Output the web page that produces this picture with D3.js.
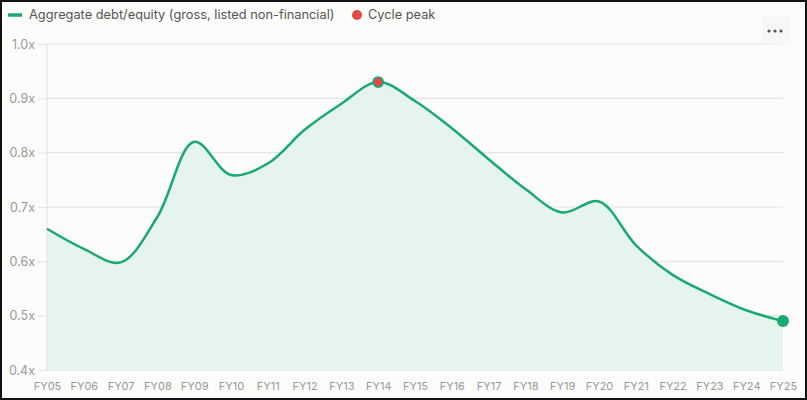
<!DOCTYPE html>
<html><head><meta charset="utf-8">
<script src="https://cdn.jsdelivr.net/npm/d3@7"></script>
<style>
html,body{margin:0;padding:0;background:#fff;}
#wrap{position:absolute;left:0;top:0;width:803px;height:396px;border:2px solid #111;background:#fcfcfa;}
svg{display:block;font-family:Inter,"Noto Sans",sans-serif;}
</style></head><body>
<div id="wrap"><svg id="c" width="803" height="396"></svg></div>
<script>
const categories = ["FY05","FY06","FY07","FY08","FY09","FY10","FY11","FY12","FY13","FY14","FY15","FY16","FY17","FY18","FY19","FY20","FY21","FY22","FY23","FY24","FY25"];
const debtEquity = [0.66,0.623,0.598,0.682,0.82,0.759,0.78,0.842,0.89,0.93,0.895,0.845,0.788,0.733,0.69,0.71,0.63,0.575,0.54,0.51,0.49];
const peakIndex = 9;
const yTicks = [0.4,0.5,0.6,0.7,0.8,0.9,1.0];
const seriesName = "Aggregate debt/equity (gross, listed non-financial)";
const peakName = "Cycle peak";

const off = 2; // border offset
const svg = d3.select("#c");
const g = svg.append("g").attr("transform",`translate(${-off},${-off})`);
const x = d3.scalePoint().domain(categories).range([47,783]);
const y = d3.scaleLinear().domain([0.4,1.0]).range([370,44]);
const green = "#19a974", fill = "#e5f5ee";

// grid
g.append("g").selectAll("line").data(yTicks).join("line")
  .attr("x1",47).attr("x2",783).attr("y1",d=>y(d)).attr("y2",d=>y(d))
  .attr("stroke",d=>d===0.4?"#d6dcd8":"#e4e4e2").attr("stroke-width",1.2);

// area
const data = categories.map((c,i)=>({c,v:debtEquity[i]}));
const curve = d3.curveCatmullRom.alpha(0.5);
g.append("path").datum(data)
  .attr("d", d3.area().x(d=>x(d.c)).y0(y(0.4)).y1(d=>y(d.v)).curve(curve))
  .attr("fill",fill);

// y axis
const ya = g.append("g").attr("transform","translate(47,0)")
  .call(d3.axisLeft(y).tickValues(yTicks).tickFormat(d=>d3.format(".1f")(d)+"x").tickSize(9).tickPadding(3));
ya.select(".domain").attr("stroke","#e4e4e2").attr("stroke-width",1.2).attr("d","M0,"+y(1.0)+"V"+y(0.4));
ya.selectAll(".tick line").attr("stroke","#e4e4e2").attr("stroke-width",1.2);
ya.selectAll("text").attr("fill","#999").attr("font-size",12.5).attr("font-family","Inter,sans-serif");

// x axis
const xa = g.append("g").attr("transform","translate(0,370)")
  .call(d3.axisBottom(x).tickSize(0).tickPadding(12));
xa.select(".domain").remove();
xa.selectAll("text").attr("fill","#999").attr("font-size",11).attr("font-family","Inter,sans-serif");

// line
g.append("path").datum(data)
  .attr("d", d3.line().x(d=>x(d.c)).y(d=>y(d.v)).curve(curve))
  .attr("fill","none").attr("stroke",green).attr("stroke-width",2.5);

// peak dot
g.append("circle").attr("cx",x(categories[peakIndex])).attr("cy",y(debtEquity[peakIndex]))
  .attr("r",5).attr("fill","#e24a4a").attr("stroke",green).attr("stroke-width",1.8);
// end dot
const last = categories.length-1;
g.append("circle").attr("cx",x(categories[last])).attr("cy",y(debtEquity[last]))
  .attr("r",6).attr("fill",green);

// legend
g.append("line").attr("x1",8).attr("x2",22).attr("y1",15).attr("y2",15).attr("stroke",green).attr("stroke-width",3.5);
g.append("text").attr("x",29).attr("y",15).attr("dy","0.35em").attr("font-size",12.8).attr("fill","#555").text(seriesName);
g.append("circle").attr("cx",357).attr("cy",15).attr("r",5).attr("fill","#e24a4a");
g.append("text").attr("x",368).attr("y",15).attr("dy","0.35em").attr("font-size",12.8).attr("fill","#555").text(peakName);

// menu button
g.append("rect").attr("x",762).attr("y",16).attr("width",28).attr("height",28).attr("rx",4).attr("fill","#f7f7f5");
[769,775,781].forEach(cx=>g.append("circle").attr("cx",cx).attr("cy",31).attr("r",1.6).attr("fill","#555"));
</script></body></html>
